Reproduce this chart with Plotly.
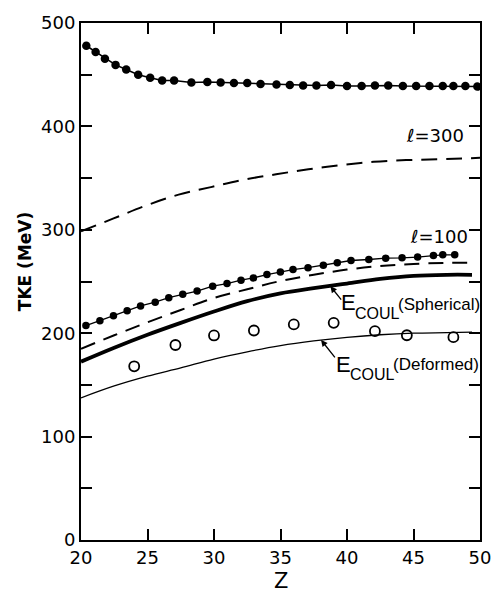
import plotly.graph_objects as go

# ---- data ----
z_top = [20.4, 21.1, 21.8, 22.6, 23.4, 24.3, 25.2, 26.1, 27.0, 28.3, 29.5, 30.5, 31.5, 32.5,
         33.5, 34.7, 35.7, 36.7, 37.7, 38.8, 40.0, 41.1, 42.1, 43.1, 44.2, 45.2, 46.2, 47.2,
         48.0, 48.9, 49.8]
tke_top = [478, 472, 465.5, 459.5, 455, 450, 447, 444.5, 444.5, 442.5, 443, 442.5, 442, 442,
           441, 440.5, 440, 439.5, 439.5, 440, 439, 439, 439.5, 439.5, 439, 439, 439, 439,
           439, 439, 438.5]

z_l300 = [20.0, 22.45, 24.9, 27.34, 29.78, 32.2, 34.67, 37.1, 39.57, 42.0, 44.45, 46.9, 50.0]
tke_l300 = [298.5, 311, 323.5, 334, 341.3, 348.3, 353.7, 358.5, 362.6, 365.7, 367.4, 368.3, 369.6]

z_l100 = [20.37, 21.42, 22.44, 23.47, 24.48, 25.58, 26.6, 27.65, 28.73, 29.9, 30.98, 32.03,
          32.96, 33.98, 34.99, 35.94, 37.07, 38.22, 39.27, 40.3, 41.64, 42.91, 44.14, 45.31,
          46.5, 47.2, 48.1]
tke_l100 = [207.4, 212.1, 216.9, 221.7, 226.4, 230, 234.4, 237.6, 240.8, 245.5, 248, 251.3,
            253.5, 256.7, 259.2, 261.5, 263.4, 265.6, 268.1, 270.3, 271.3, 272.6, 272.9, 273.6,
            275.1, 275.8, 275.8]

z_dash = [20.0, 22.5, 25.0, 27.5, 30.0, 32.5, 35.0, 37.5, 40.0, 42.5, 45.0, 47.5, 49.6]
tke_dash = [185, 198, 210.5, 222.5, 234, 242.5, 250.5, 256.5, 261.5, 265, 267, 268, 268]

z_sph = [20.0, 22.5, 25.0, 27.5, 30.0, 32.5, 35.0, 37.5, 40.0, 42.5, 45.0, 47.5, 49.4]
tke_sph = [172.5, 186, 198.5, 210, 221, 231, 238.5, 243.5, 248, 252.5, 255.5, 256.5, 256.5]

z_def = [20.0, 22.5, 25.0, 27.5, 30.0, 32.5, 35.0, 37.5, 40.0, 42.5, 45.0, 47.5, 49.4]
tke_def = [137.5, 149, 158.5, 166.5, 175, 182, 188, 192.5, 196, 198.5, 200, 200.5, 201]

z_exp = [24.0, 27.1, 30.0, 33.0, 36.0, 39.0, 42.1, 44.5, 48.0]
tke_exp = [168, 188.6, 197.8, 202.6, 208.5, 210, 202, 198, 196.2]

x_ticks = [20, 25, 30, 35, 40, 45, 50]
y_ticks = [0, 50, 100, 150, 200, 250, 300, 350, 400, 450, 500]
y_ticktext = ["0", "", "100", "", "200", "", "300", "", "400", "", "500"]

BLACK = "#000000"
FONT = "DejaVu Sans"
LAB = "Liberation Sans"

# plot area in pixels (used only to place text labels)
PL, PR, PT, PB = 81, 490, 16, 540


def px(xp):
    return (xp - PL) / (PR - PL)


def py(yp):
    return (PB - yp) / (PB - PT)


fig = go.Figure()

fig.add_trace(go.Scatter(x=z_top, y=tke_top, mode="lines+markers",
                         line=dict(color=BLACK, width=1.5),
                         marker=dict(color=BLACK, size=8.5), showlegend=False))
fig.add_trace(go.Scatter(x=z_l300, y=tke_l300, mode="lines",
                         line=dict(color=BLACK, width=2, dash="16px,9px", shape="spline"),
                         showlegend=False))
fig.add_trace(go.Scatter(x=z_l100, y=tke_l100, mode="lines+markers",
                         line=dict(color=BLACK, width=1.3),
                         marker=dict(color=BLACK, size=7.5), showlegend=False))
fig.add_trace(go.Scatter(x=z_dash, y=tke_dash, mode="lines",
                         line=dict(color=BLACK, width=2, dash="15px,9px", shape="spline"),
                         showlegend=False))
fig.add_trace(go.Scatter(x=z_sph, y=tke_sph, mode="lines",
                         line=dict(color=BLACK, width=3.8, shape="spline"),
                         showlegend=False))
fig.add_trace(go.Scatter(x=z_def, y=tke_def, mode="lines",
                         line=dict(color=BLACK, width=1.3, shape="spline"),
                         showlegend=False))
fig.add_trace(go.Scatter(x=z_exp, y=tke_exp, mode="markers",
                         marker=dict(symbol="circle-open", color=BLACK, size=10,
                                     line=dict(width=1.8, color=BLACK)),
                         showlegend=False))

axis_common = dict(showgrid=False, zeroline=False, showline=True, linecolor=BLACK,
                   linewidth=2, mirror="ticks", ticks="inside", ticklen=11,
                   tickwidth=2, tickcolor=BLACK,
                   tickfont=dict(family=FONT, size=18, color=BLACK))

fig.update_xaxes(range=[20, 50], tickmode="array", tickvals=x_ticks,
                 ticktext=[str(v) for v in x_ticks], **axis_common)
fig.update_yaxes(range=[0, 500], tickmode="array", tickvals=y_ticks,
                 ticktext=y_ticktext, **axis_common)


def label(text, xp, yp, size, family=LAB, anchor="left"):
    return dict(text=text, xref="paper", yref="paper", x=px(xp), y=py(yp),
                showarrow=False, xanchor=anchor, yanchor="middle", borderpad=0,
                font=dict(family=family, size=size, color=BLACK))


ann = []
# axis titles
ann.append(dict(text="TKE (MeV)", xref="paper", yref="paper", x=px(23), y=py(258),
                textangle=-90, showarrow=False, xanchor="center", yanchor="middle",
                font=dict(family=FONT, size=17, color=BLACK, weight="bold")))
ann.append(label("Z", 286, 582, 21, FONT, "center"))
# curve labels
ann.append(label("<i>ℓ</i>=300", 413, 130, 18, FONT))
ann.append(label("<i>ℓ</i>=100", 417, 232, 18, FONT))
# E_COUL (Spherical)
ann.append(label("E", 346, 299, 22))
ann.append(label("COUL", 361, 310, 16))
ann.append(label("(Spherical)", 405, 301, 17))
# E_COUL (Deformed)
ann.append(label("E", 341, 362, 22))
ann.append(label("COUL", 356, 372, 16))
ann.append(label("(Deformed)", 400, 362, 17))
# arrows
ann.append(dict(text="", x=38.75, y=245.5, xref="x", yref="y", showarrow=True,
                ax=12, ay=15, arrowhead=2, arrowsize=1, arrowwidth=1.3, arrowcolor=BLACK))
ann.append(dict(text="", x=38.05, y=193.5, xref="x", yref="y", showarrow=True,
                ax=15, ay=19, arrowhead=2, arrowsize=1, arrowwidth=1.3, arrowcolor=BLACK))

fig.update_layout(width=503, height=592, margin=dict(l=PL, r=503 - PR, t=PT, b=592 - PB),
                  paper_bgcolor="white", plot_bgcolor="white", annotations=ann,
                  showlegend=False)

fig.write_html("out.html")
